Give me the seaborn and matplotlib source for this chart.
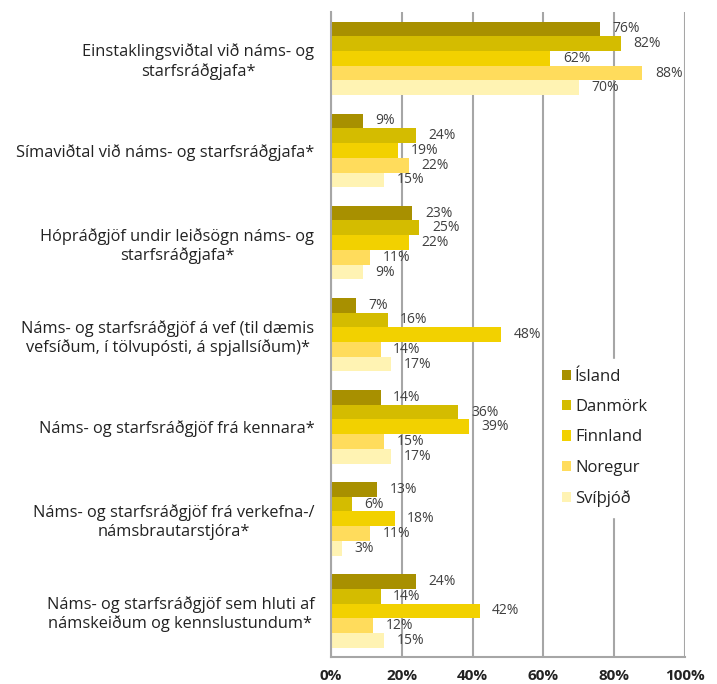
import pandas as pd
import matplotlib.pyplot as plt
import seaborn as sns

# Flokkar (y-ás) og lönd (röð)
flokkar = [
    "Einstaklingsviðtal við náms- og\nstarfsráðgjafa*",
    "Símaviðtal við náms- og starfsráðgjafa*",
    "Hópráðgjöf undir leiðsögn náms- og\nstarfsráðgjafa*",
    "Náms- og starfsráðgjöf á vef (til dæmis\nvefsíðum, í tölvupósti, á spjallsíðum)*",
    "Náms- og starfsráðgjöf frá kennara*",
    "Náms- og starfsráðgjöf frá verkefna-/\nnámsbrautarstjóra*",
    "Náms- og starfsráðgjöf sem hluti af\nnámskeiðum og kennslustundum*",
]
lond = ["Ísland", "Danmörk", "Finnland", "Noregur", "Svíþjóð"]

island = [76, 9, 23, 7, 14, 13, 24]
danmork = [82, 24, 25, 16, 36, 6, 14]
finnland = [62, 19, 22, 48, 39, 18, 42]
noregur = [88, 22, 11, 14, 15, 11, 12]
svithjod = [70, 15, 9, 17, 17, 3, 15]

litir = ["#A89000", "#D4BC00", "#F2D100", "#FFDC5C", "#FFF3B3"]

gildi = [island, danmork, finnland, noregur, svithjod]
df = pd.DataFrame(
    [(f, land, g[i]) for land, g in zip(lond, gildi) for i, f in enumerate(flokkar)],
    columns=["Flokkur", "Land", "Hlutfall"],
)

sns.set_style("white")
plt.rcParams["font.family"] = ["Open Sans", "DejaVu Sans"]

fig = plt.figure(figsize=(7.17, 6.84), dpi=100)
ax = fig.add_axes([0.4616, 0.0395, 0.4937, 0.9425])

sns.barplot(data=df, y="Flokkur", x="Hlutfall", hue="Land", order=flokkar,
            hue_order=lond, palette=litir, orient="h", width=0.8, gap=0,
            saturation=1, errorbar=None, ax=ax, legend=True, linewidth=0)

for cont in ax.containers:
    for bar in cont:
        w = bar.get_width()
        ax.annotate(f"{w:.0f}%", (w, bar.get_y() + bar.get_height() / 2),
                    xytext=(9, 0), textcoords="offset points",
                    va="center", ha="left", fontsize=10, color="#404040")

ax.set_xlim(0, 100)
ax.set_ylim(6.5, -0.5)
ax.set_xticks(range(0, 101, 20))
ax.set_xticklabels([f"{v}%" for v in range(0, 101, 20)], fontsize=11,
                   fontweight="bold", color="#222222")
ax.set_yticks(range(len(flokkar)))
ax.set_yticklabels(flokkar, fontsize=11.8, color="#222222", multialignment="center")
ax.tick_params(axis="y", which="major", length=0, pad=12)
ax.set_yticks([i - 0.5 for i in range(len(flokkar) + 1)], minor=True)
ax.tick_params(axis="y", which="minor", length=5, width=1.5, color="#A6A6A6")
ax.tick_params(axis="x", length=5, width=1.5, color="#A6A6A6", pad=4)
ax.set_xlabel("")
ax.set_ylabel("")

ax.grid(axis="x", color="#A6A6A6", linewidth=1.5)
ax.set_axisbelow(True)
for s in ["top", "right"]:
    ax.spines[s].set_visible(False)
for s in ["left", "bottom"]:
    ax.spines[s].set_color("#A6A6A6")
    ax.spines[s].set_linewidth(1.5)

leg = ax.legend(loc="center left", bbox_to_anchor=(0.6, 0.34), frameon=True,
                fontsize=12, handlelength=0.55, handleheight=0.55,
                labelspacing=0.85, handletextpad=0.25, borderpad=0.6)
leg.get_frame().set_edgecolor("white")
leg.get_frame().set_facecolor("white")
leg.get_frame().set_alpha(1)
for t in leg.get_texts():
    t.set_color("#222222")

fig.savefig("out.png", dpi=100)
